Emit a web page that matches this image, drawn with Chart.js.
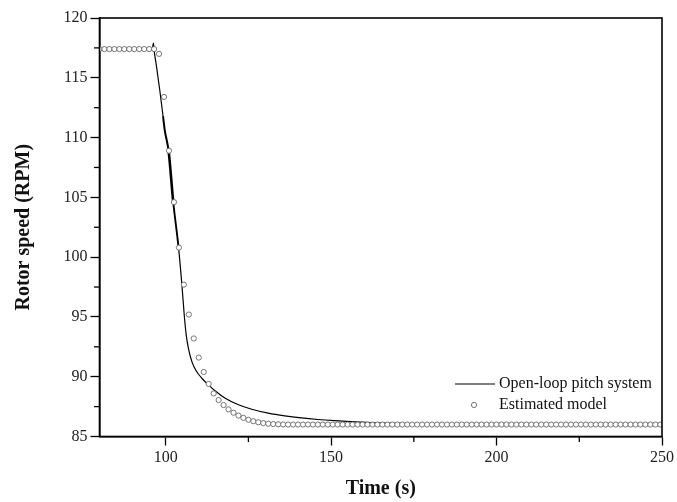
<!DOCTYPE html>
<html>
<head>
<meta charset="utf-8">
<script src="https://cdn.jsdelivr.net/npm/chart.js@4.4.0/dist/chart.umd.min.js"></script>
<style>
  html, body { margin: 0; padding: 0; background: #fff; }
  #wrap { width: 677px; height: 502px; }
</style>
</head>
<body>
<div id="wrap"><canvas id="rotorChart" width="677" height="502"></canvas></div>
<script>
// Open-loop pitch system (solid line)
var lineTime = [80, 95.6, 96.0, 96.3, 96.6, 97.2, 98.2, 99.2, 99.7, 100.9, 102.3, 103.9, 104.9, 105.6, 106.2, 107.0, 108.0, 109.2, 111.0, 113.0, 115.0, 118.0, 122.0, 126.0, 131.0, 136.0, 141.0, 146.0, 151.0, 156.0, 162.0, 170.0, 180.0, 195.0, 210.0, 230.0, 250.0];
var lineSpeed = [117.4, 117.4, 117.5, 117.9, 117.1, 116.0, 114.0, 111.8, 110.65, 108.85, 104.57, 100.78, 97.7, 95.2, 93.5, 92.2, 91.2, 90.5, 89.85, 89.3, 88.8, 88.2, 87.65, 87.28, 86.95, 86.72, 86.55, 86.42, 86.32, 86.24, 86.16, 86.09, 86.03, 85.98, 85.95, 85.93, 85.92];

// Estimated model (open circles)
var modelTime = [80, 81.5, 83, 84.5, 86, 87.5, 89, 90.5, 92, 93.5, 95, 96.5, 98, 99.5, 101, 102.5, 104, 105.5, 107, 108.5,
  110, 111.5, 113, 114.5, 116, 117.5, 119, 120.5, 122, 123.5, 125, 126.5, 128, 129.5, 131, 132.5, 134, 135.5, 137, 138.5,
  140, 141.5, 143, 144.5, 146, 147.5, 149, 150.5, 152, 153.5, 155, 156.5, 158, 159.5, 161, 162.5, 164, 165.5, 167, 168.5,
  170, 171.5, 173, 174.5, 176, 177.5, 179, 180.5, 182, 183.5, 185, 186.5, 188, 189.5, 191, 192.5, 194, 195.5, 197, 198.5,
  200, 201.5, 203, 204.5, 206, 207.5, 209, 210.5, 212, 213.5, 215, 216.5, 218, 219.5, 221, 222.5, 224, 225.5, 227, 228.5,
  230, 231.5, 233, 234.5, 236, 237.5, 239, 240.5, 242, 243.5, 245, 246.5, 248, 249.5];
var modelSpeed = [117.4, 117.4, 117.4, 117.4, 117.4, 117.4, 117.4, 117.4, 117.4, 117.4, 117.4, 117.4, 117.0, 113.4, 108.9, 104.6, 100.8, 97.7, 95.2, 93.2,
  91.6, 90.4, 89.4, 88.6, 88.05, 87.63, 87.27, 86.99, 86.75, 86.56, 86.4, 86.28, 86.19, 86.12, 86.07, 86.04, 86.02, 86.01, 86.0, 86.0,
  86.0, 86.0, 86.0, 86.0, 86.0, 86.0, 86.0, 86.0, 86.0, 86.0, 86.0, 86.0, 86.0, 86.0, 86.0, 86.0, 86.0, 86.0, 86.0, 86.0,
  86.0, 86.0, 86.0, 86.0, 86.0, 86.0, 86.0, 86.0, 86.0, 86.0, 86.0, 86.0, 86.0, 86.0, 86.0, 86.0, 86.0, 86.0, 86.0, 86.0,
  86.0, 86.0, 86.0, 86.0, 86.0, 86.0, 86.0, 86.0, 86.0, 86.0, 86.0, 86.0, 86.0, 86.0, 86.0, 86.0, 86.0, 86.0, 86.0, 86.0,
  86.0, 86.0, 86.0, 86.0, 86.0, 86.0, 86.0, 86.0, 86.0, 86.0, 86.0, 86.0, 86.0, 86.0];

var seriesNames = ["Open-loop pitch system", "Estimated model"];
var xTickLabels = [100, 150, 200, 250];
var yTickLabels = [85, 90, 95, 100, 105, 110, 115, 120];

var serif = "'Liberation Serif', 'Times New Roman', serif";

function toPoints(xs, ys) {
  var pts = [];
  for (var i = 0; i < xs.length; i++) pts.push({ x: xs[i], y: ys[i] });
  return pts;
}

// 枠線・副目盛・凡例
var framePlugin = {
  id: 'frame',
  afterDraw: function (chart) {
    var c = chart.ctx, a = chart.chartArea;
    c.save();
    c.strokeStyle = '#000';
    c.lineWidth = 1.6;
    c.strokeRect(a.left, a.top, a.right - a.left, a.bottom - a.top);

    // minor ticks
    c.lineWidth = 1.3;
    var xs = chart.scales.x, ys = chart.scales.y;
    xs.ticks.forEach(function (t) {
      if (t.value % 50 === 25) {
        var px = xs.getPixelForValue(t.value);
        c.beginPath(); c.moveTo(px, a.bottom); c.lineTo(px, a.bottom + 5.5); c.stroke();
      }
    });
    ys.ticks.forEach(function (t) {
      if (t.value % 5 !== 0) {
        var py = ys.getPixelForValue(t.value);
        c.beginPath(); c.moveTo(a.left, py); c.lineTo(a.left - 5.5, py); c.stroke();
      }
    });

    // legend
    c.font = "16px " + serif;
    c.fillStyle = '#111';
    c.textBaseline = 'middle';
    c.textAlign = 'left';
    c.lineWidth = 1.2;
    c.beginPath(); c.moveTo(455, 384); c.lineTo(495, 384); c.stroke();
    c.fillText(seriesNames[0], 499, 384);
    c.beginPath(); c.arc(474, 405, 2.6, 0, Math.PI * 2);
    c.fillStyle = '#fff'; c.fill();
    c.strokeStyle = '#666'; c.lineWidth = 0.9; c.stroke();
    c.fillStyle = '#111';
    c.fillText(seriesNames[1], 499, 405);
    c.restore();
  }
};

var ctx = document.getElementById("rotorChart");
var rotorChart = new Chart(ctx, {
  type: 'scatter',
  data: {
    datasets: [
      {
        label: seriesNames[0],
        data: toPoints(lineTime, lineSpeed),
        showLine: true,
        borderColor: '#000',
        borderWidth: 1.2,
        pointRadius: 0,
        cubicInterpolationMode: 'monotone',
        order: 2,
        segment: {
          // 振動で太く見える区間
          borderWidth: function (s) {
            var x0 = s.p0.parsed.x;
            if (x0 >= 99.2 && x0 < 100.9) return 2.0;
            if (x0 >= 100.9 && x0 < 102.3) return 2.6;
            if (x0 >= 102.3 && x0 < 103.9) return 1.9;
            return 1.2;
          }
        }
      },
      {
        label: seriesNames[1],
        data: toPoints(modelTime, modelSpeed),
        showLine: false,
        pointStyle: 'circle',
        pointRadius: 2.6,
        pointBorderWidth: 0.9,
        pointBorderColor: '#666',
        pointBackgroundColor: '#fff',
        order: 1
      }
    ]
  },
  options: {
    responsive: false,
    animation: false,
    layout: { padding: { left: 0, right: 14, top: 18, bottom: 0 } },
    plugins: {
      legend: { display: false },
      tooltip: { enabled: false }
    },
    scales: {
      x: {
        type: 'linear',
        min: 80,
        max: 250,
        afterFit: function (s) { s.height = 65.5; },
        border: { color: '#000', width: 1.6 },
        grid: {
          drawOnChartArea: false,
          drawTicks: true,
          tickLength: 9,
          tickWidth: 1.3,
          tickColor: function (c) { return c.tick && xTickLabels.indexOf(c.tick.value) >= 0 ? '#000' : 'rgba(0,0,0,0)'; }
        },
        ticks: {
          stepSize: 25,
          autoSkip: false,
          maxRotation: 0,
          padding: 3,
          color: '#222',
          font: { family: serif, size: 16 },
          callback: function (v) { return xTickLabels.indexOf(v) >= 0 ? String(v) : ''; }
        },
        title: {
          display: true,
          text: 'Time (s)',
          color: '#111',
          font: { family: serif, size: 20, weight: 'bold' },
          padding: { top: 0, bottom: 1 }
        }
      },
      y: {
        type: 'linear',
        min: 85,
        max: 120,
        afterFit: function (s) { s.width = 99.5; },
        border: { color: '#000', width: 1.6 },
        grid: {
          drawOnChartArea: false,
          drawTicks: true,
          tickLength: 9,
          tickWidth: 1.3,
          tickColor: function (c) { return c.tick && yTickLabels.indexOf(c.tick.value) >= 0 ? '#000' : 'rgba(0,0,0,0)'; }
        },
        ticks: {
          stepSize: 2.5,
          autoSkip: false,
          padding: 3,
          color: '#222',
          font: { family: serif, size: 16 },
          callback: function (v) { return yTickLabels.indexOf(v) >= 0 ? String(v) : ''; }
        },
        title: {
          display: true,
          text: 'Rotor speed (RPM)',
          color: '#111',
          font: { family: serif, size: 20, weight: 'bold' },
          padding: { top: 12, bottom: 0 }
        }
      }
    }
  },
  plugins: [framePlugin]
});
</script>
</body>
</html>
